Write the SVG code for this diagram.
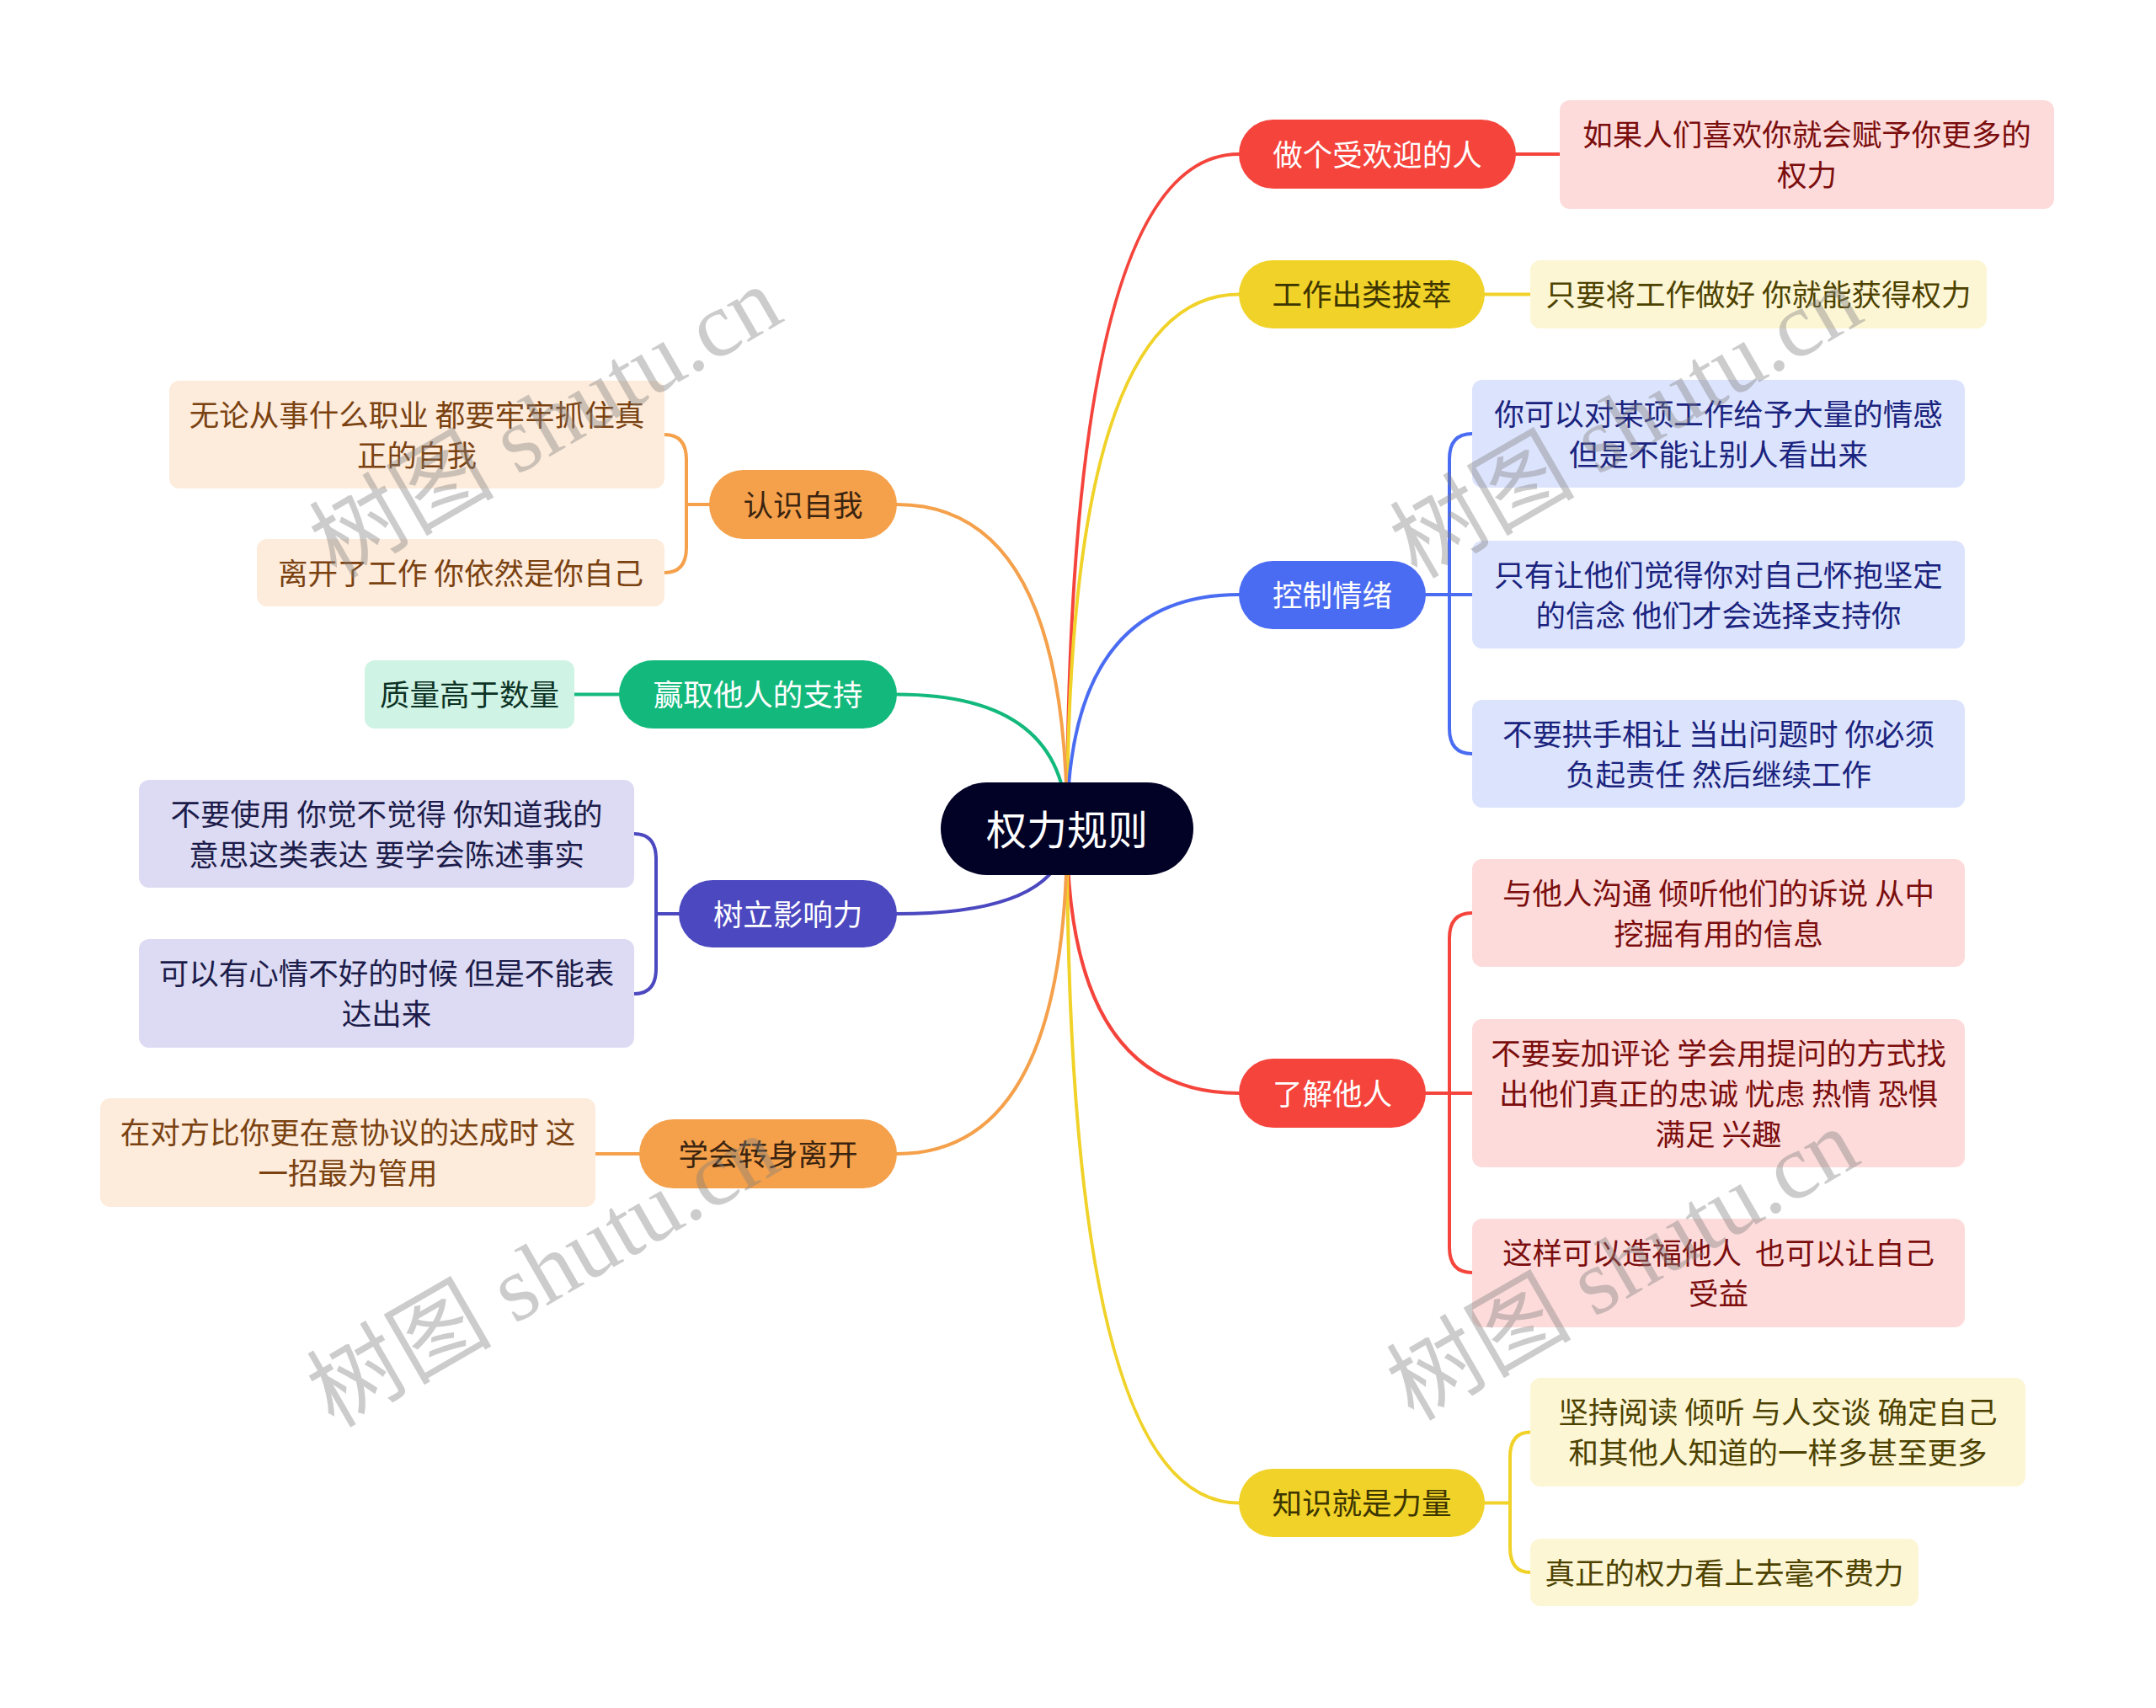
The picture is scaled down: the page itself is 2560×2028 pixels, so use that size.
<svg xmlns="http://www.w3.org/2000/svg" width="2560" height="2028" viewBox="0 0 2560 2028">
<style>
text{font-family:'Noto Sans CJK SC','Noto Sans',sans-serif;font-size:35.5px;text-anchor:middle;dominant-baseline:central}
.c{fill:none;stroke-width:4;stroke-linecap:round}
.wm{font-family:'Liberation Serif','Noto Sans CJK SC',serif;font-size:110px;fill:#808080;fill-opacity:0.4;text-anchor:middle;dominant-baseline:central}
</style>
<rect width="2560" height="2028" fill="#ffffff"/>
<g id="connectors">
<path class="c" stroke="#f5443c" d="M1267 984 Q1267 183 1471 183"/>
<path class="c" stroke="#f0d228" d="M1267 984 Q1267 349.5 1471 349.5"/>
<path class="c" stroke="#4a6cf2" d="M1267 984 Q1267 706 1471 706"/>
<path class="c" stroke="#f5443c" d="M1267 984 Q1267 1298 1471 1298"/>
<path class="c" stroke="#f0d228" d="M1267 984 Q1267 1784.5 1471 1784.5"/>
<path class="c" stroke="#f5a04a" d="M1267 984 Q1267 599 1065 599"/>
<path class="c" stroke="#13b97c" d="M1267 984 Q1267 824.5 1065 824.5"/>
<path class="c" stroke="#4b48c0" d="M1267 984 Q1267 1085 1065 1085"/>
<path class="c" stroke="#f5a04a" d="M1267 984 Q1267 1370 1065 1370"/>
<path class="c" stroke="#f5443c" d="M1800 183 L1852 183"/>
<path class="c" stroke="#f0d228" d="M1763 349.5 L1817 349.5"/>
<path class="c" stroke="#4a6cf2" d="M1693 706 L1748 706 M1748 515 Q1721 515 1721 545 L1721 865 Q1721 895 1748 895"/>
<path class="c" stroke="#f5443c" d="M1693 1298 L1748 1298 M1748 1084 Q1721 1084 1721 1114 L1721 1481 Q1721 1511 1748 1511"/>
<path class="c" stroke="#f0d228" d="M1763 1784.5 L1793 1784.5 M1817 1700.5 Q1793 1700.5 1793 1730 L1793 1837 Q1793 1867 1817 1867"/>
<path class="c" stroke="#f5a04a" d="M842 599 L815 599 M789 516 Q815 516 815 546 L815 650 Q815 680 789 680"/>
<path class="c" stroke="#13b97c" d="M735 824.5 L682 824.5"/>
<path class="c" stroke="#4b48c0" d="M806 1085 L779 1085 M753 990 Q779 990 779 1020 L779 1150 Q779 1180 753 1180"/>
<path class="c" stroke="#f5a04a" d="M759 1370 L707 1370"/>
</g>
<g id="root">
<rect x="1117" y="929" width="300" height="110" rx="55" fill="#020226"/>
<text x="1267" y="982" fill="#ffffff" style="font-size:48px">权力规则</text>
</g>
<g id="n-popular">
<rect x="1471" y="142" width="329" height="82" rx="41" fill="#f5443c"/>
<text x="1635.5" y="181" fill="#ffffff">做个受欢迎的人</text>
</g>
<g id="n-popular-1">
<rect x="1852" y="119" width="587" height="129" rx="12" fill="#fddbdb"/>
<text x="2145.5" y="157.5" fill="#7b0d0d">如果人们喜欢你就会赋予你更多的</text>
<text x="2145.5" y="205.5" fill="#7b0d0d">权力</text>
</g>
<g id="n-excel">
<rect x="1471" y="309" width="292" height="81" rx="40.5" fill="#f0d228"/>
<text x="1617" y="347.5" fill="#3d3500">工作出类拔萃</text>
</g>
<g id="n-excel-1">
<rect x="1817" y="309" width="542" height="81" rx="12" fill="#fcf6d5"/>
<text x="2088" y="347.5" fill="#4d4200">只要将工作做好 你就能获得权力</text>
</g>
<g id="n-emotion">
<rect x="1471" y="666" width="222" height="81" rx="40.5" fill="#4a6cf2"/>
<text x="1582" y="704" fill="#ffffff">控制情绪</text>
</g>
<g id="n-emotion-1">
<rect x="1748" y="451" width="585" height="128" rx="12" fill="#dce3fc"/>
<text x="2040.5" y="489" fill="#1a237e">你可以对某项工作给予大量的情感</text>
<text x="2040.5" y="537" fill="#1a237e">但是不能让别人看出来</text>
</g>
<g id="n-emotion-2">
<rect x="1748" y="642" width="585" height="128" rx="12" fill="#dce3fc"/>
<text x="2040.5" y="680" fill="#1a237e">只有让他们觉得你对自己怀抱坚定</text>
<text x="2040.5" y="728" fill="#1a237e">的信念 他们才会选择支持你</text>
</g>
<g id="n-emotion-3">
<rect x="1748" y="831" width="585" height="128" rx="12" fill="#dce3fc"/>
<text x="2040.5" y="869" fill="#1a237e">不要拱手相让 当出问题时 你必须</text>
<text x="2040.5" y="917" fill="#1a237e">负起责任 然后继续工作</text>
</g>
<g id="n-others">
<rect x="1471" y="1257" width="222" height="82" rx="41" fill="#f5443c"/>
<text x="1582" y="1296" fill="#ffffff">了解他人</text>
</g>
<g id="n-others-1">
<rect x="1748" y="1020" width="585" height="128" rx="12" fill="#fddbdb"/>
<text x="2040.5" y="1058" fill="#7b0d0d">与他人沟通 倾听他们的诉说 从中</text>
<text x="2040.5" y="1106" fill="#7b0d0d">挖掘有用的信息</text>
</g>
<g id="n-others-2">
<rect x="1748" y="1210" width="585" height="176" rx="12" fill="#fddbdb"/>
<text x="2040.5" y="1248" fill="#7b0d0d">不要妄加评论 学会用提问的方式找</text>
<text x="2040.5" y="1296" fill="#7b0d0d">出他们真正的忠诚 忧虑 热情 恐惧</text>
<text x="2040.5" y="1344" fill="#7b0d0d">满足 兴趣</text>
</g>
<g id="n-others-3">
<rect x="1748" y="1447" width="585" height="129" rx="12" fill="#fddbdb"/>
<text x="2040.5" y="1485.5" fill="#7b0d0d" xml:space="preserve">这样可以造福他人  也可以让自己</text>
<text x="2040.5" y="1533.5" fill="#7b0d0d">受益</text>
</g>
<g id="n-knowledge">
<rect x="1471" y="1744" width="292" height="81" rx="40.5" fill="#f0d228"/>
<text x="1617" y="1782.5" fill="#3d3500">知识就是力量</text>
</g>
<g id="n-knowledge-1">
<rect x="1817" y="1636" width="588" height="129" rx="12" fill="#fcf6d5"/>
<text x="2111" y="1674.5" fill="#4d4200">坚持阅读 倾听 与人交谈 确定自己</text>
<text x="2111" y="1722.5" fill="#4d4200">和其他人知道的一样多甚至更多</text>
</g>
<g id="n-knowledge-2">
<rect x="1817" y="1827" width="461" height="80" rx="12" fill="#fcf6d5"/>
<text x="2047.5" y="1865" fill="#4d4200">真正的权力看上去毫不费力</text>
</g>
<g id="n-self">
<rect x="842" y="558" width="223" height="82" rx="41" fill="#f5a04a"/>
<text x="953.5" y="597" fill="#3a2410">认识自我</text>
</g>
<g id="n-self-1">
<rect x="201" y="452" width="588" height="128" rx="12" fill="#fdebdb"/>
<text x="495" y="490" fill="#7a4211">无论从事什么职业 都要牢牢抓住真</text>
<text x="495" y="538" fill="#7a4211">正的自我</text>
</g>
<g id="n-self-2">
<rect x="305" y="640" width="484" height="80" rx="12" fill="#fdebdb"/>
<text x="547" y="678" fill="#7a4211">离开了工作 你依然是你自己</text>
</g>
<g id="n-support">
<rect x="735" y="784" width="330" height="81" rx="40.5" fill="#13b97c"/>
<text x="900" y="822.5" fill="#ffffff">赢取他人的支持</text>
</g>
<g id="n-support-1">
<rect x="433" y="784" width="249" height="81" rx="12" fill="#cff3e4"/>
<text x="557.5" y="822.5" fill="#0c3325">质量高于数量</text>
</g>
<g id="n-influence">
<rect x="806" y="1045" width="259" height="80" rx="40" fill="#4b48c0"/>
<text x="935.5" y="1083" fill="#ffffff">树立影响力</text>
</g>
<g id="n-influence-1">
<rect x="165" y="926" width="588" height="128" rx="12" fill="#dddbf3"/>
<text x="459" y="964" fill="#1c1c4a">不要使用 你觉不觉得 你知道我的</text>
<text x="459" y="1012" fill="#1c1c4a">意思这类表达 要学会陈述事实</text>
</g>
<g id="n-influence-2">
<rect x="165" y="1115" width="588" height="129" rx="12" fill="#dddbf3"/>
<text x="459" y="1153.5" fill="#1c1c4a">可以有心情不好的时候 但是不能表</text>
<text x="459" y="1201.5" fill="#1c1c4a">达出来</text>
</g>
<g id="n-leave">
<rect x="759" y="1329" width="306" height="82" rx="41" fill="#f5a04a"/>
<text x="912" y="1368" fill="#3a2410">学会转身离开</text>
</g>
<g id="n-leave-1">
<rect x="119" y="1304" width="588" height="129" rx="12" fill="#fdebdb"/>
<text x="413" y="1342.5" fill="#7a4211">在对方比你更在意协议的达成时 这</text>
<text x="413" y="1390.5" fill="#7a4211">一招最为管用</text>
</g>
<g id="watermarks">
<text class="wm" transform="translate(648 502) rotate(-30)">树图 shutu.cn</text>
<text class="wm" transform="translate(1931 502) rotate(-30)">树图 shutu.cn</text>
<text class="wm" transform="translate(645 1510) rotate(-30)">树图 shutu.cn</text>
<text class="wm" transform="translate(1927 1502) rotate(-30)">树图 shutu.cn</text>
</g>
</svg>
